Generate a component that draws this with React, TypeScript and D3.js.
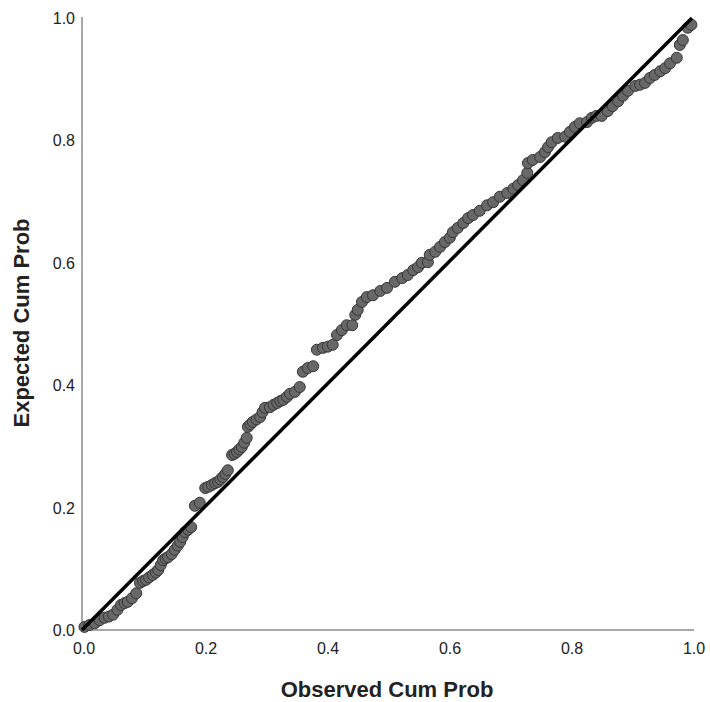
import React, { useEffect, useRef } from 'react';
import * as d3 from 'd3';

// observed cum prob (x) and expected cum prob (y)
const observed = [
  0.004, 0.012, 0.021, 0.029, 0.037, 0.044, 0.051, 0.058, 0.064, 0.070,
  0.075, 0.082, 0.089, 0.095, 0.100, 0.105, 0.110, 0.116, 0.121, 0.125,
  0.129, 0.133, 0.137, 0.141, 0.147, 0.152, 0.157, 0.161, 0.165, 0.169,
  0.174, 0.179, 0.185, 0.193, 0.202, 0.207, 0.213, 0.218, 0.223, 0.227,
  0.231, 0.235, 0.239, 0.246, 0.250, 0.254, 0.258, 0.262, 0.266, 0.270,
  0.272, 0.276, 0.280, 0.286, 0.292, 0.296, 0.300, 0.308, 0.314, 0.320,
  0.325, 0.330, 0.336, 0.341, 0.349, 0.357, 0.362, 0.370, 0.379, 0.385,
  0.395, 0.403, 0.411, 0.418, 0.426, 0.434, 0.443, 0.448, 0.452, 0.459,
  0.467, 0.477, 0.489, 0.500, 0.513, 0.525, 0.534, 0.543, 0.551, 0.557,
  0.567, 0.570, 0.579, 0.587, 0.595, 0.603, 0.608, 0.616, 0.625, 0.633,
  0.641, 0.652, 0.664, 0.674, 0.685, 0.697, 0.707, 0.715, 0.723, 0.730,
  0.731, 0.739, 0.751, 0.759, 0.764, 0.770, 0.780, 0.792, 0.800, 0.808,
  0.816, 0.828, 0.836, 0.843, 0.852, 0.862, 0.870, 0.879, 0.887, 0.895,
  0.907, 0.915, 0.923, 0.931, 0.939, 0.948, 0.956, 0.964, 0.975, 0.980,
  0.985, 0.993, 0.999,
];
const expected = [
  0.005, 0.008, 0.011, 0.016, 0.020, 0.022, 0.025, 0.033, 0.041, 0.044,
  0.046, 0.052, 0.060, 0.077, 0.080, 0.082, 0.086, 0.090, 0.094, 0.098,
  0.106, 0.114, 0.117, 0.119, 0.124, 0.131, 0.138, 0.144, 0.152, 0.160,
  0.164, 0.168, 0.203, 0.208, 0.232, 0.234, 0.237, 0.240, 0.242, 0.246,
  0.250, 0.255, 0.261, 0.286, 0.288, 0.291, 0.295, 0.299, 0.306, 0.314,
  0.332, 0.336, 0.340, 0.344, 0.348, 0.356, 0.363, 0.364, 0.368, 0.371,
  0.374, 0.376, 0.381, 0.386, 0.389, 0.397, 0.422, 0.428, 0.431, 0.458,
  0.461, 0.463, 0.466, 0.482, 0.490, 0.498, 0.498, 0.515, 0.523, 0.536,
  0.544, 0.547, 0.554, 0.559, 0.569, 0.575, 0.580, 0.588, 0.593, 0.600,
  0.601, 0.613, 0.618, 0.626, 0.634, 0.641, 0.650, 0.657, 0.665, 0.673,
  0.678, 0.685, 0.694, 0.699, 0.708, 0.714, 0.721, 0.727, 0.735, 0.747,
  0.763, 0.768, 0.773, 0.781, 0.789, 0.797, 0.804, 0.806, 0.814, 0.822,
  0.828, 0.830, 0.837, 0.840, 0.840, 0.848, 0.856, 0.864, 0.873, 0.881,
  0.889, 0.891, 0.894, 0.902, 0.907, 0.913, 0.918, 0.926, 0.935, 0.956,
  0.964, 0.984, 0.989,
];
const ticks = [0, 0.2, 0.4, 0.6, 0.8, 1.0];
const tickLabels = ['0.0', '0.2', '0.4', '0.6', '0.8', '1.0'];

export default function App() {
  const ref = useRef<SVGSVGElement>(null);

  useEffect(() => {
    const svg = d3.select(ref.current);
    svg.selectAll('*').remove();

    const x = d3.scaleLinear().domain([0, 1]).range([82, 692]);
    const y = d3.scaleLinear().domain([0, 1]).range([630, 18]);
    const font = '"Liberation Sans", Arial, sans-serif';

    // axes lines
    svg.append('line')
      .attr('x1', x(0)).attr('x2', 694)
      .attr('y1', y(0)).attr('y2', y(0))
      .attr('stroke', '#8c8c8c').attr('stroke-width', 1.5);
    svg.append('line')
      .attr('x1', x(0)).attr('x2', x(0))
      .attr('y1', y(0) + 1).attr('y2', 17)
      .attr('stroke', '#8c8c8c').attr('stroke-width', 1.5);

    // tick labels
    svg.append('g').selectAll('text')
      .data(ticks)
      .join('text')
      .attr('x', d => x(d) + 2)
      .attr('y', 654)
      .attr('text-anchor', 'middle')
      .attr('font-family', font)
      .attr('font-size', 16)
      .attr('fill', '#222')
      .text((d, i) => tickLabels[i]);

    svg.append('g').selectAll('text')
      .data(ticks)
      .join('text')
      .attr('x', 75)
      .attr('y', d => y(d) + 6)
      .attr('text-anchor', 'end')
      .attr('font-family', font)
      .attr('font-size', 16)
      .attr('fill', '#222')
      .text((d, i) => tickLabels[i]);

    // points
    const pts = observed.map((o, i) => ({ o, e: expected[i] }));
    svg.append('g').selectAll('circle')
      .data(pts)
      .join('circle')
      .attr('cx', d => x(d.o))
      .attr('cy', d => y(d.e))
      .attr('r', 5.5)
      .attr('fill', '#686868')
      .attr('stroke', '#363636')
      .attr('stroke-width', 1);

    // reference line
    const line = d3.line<number>().x(d => x(d)).y(d => y(d));
    svg.append('path')
      .datum([0, 1])
      .attr('d', line)
      .attr('fill', 'none')
      .attr('stroke', '#000')
      .attr('stroke-width', 3.5);

    // titles
    svg.append('text')
      .attr('x', 387).attr('y', 697)
      .attr('text-anchor', 'middle')
      .attr('font-family', font)
      .attr('font-weight', 'bold')
      .attr('font-size', 22)
      .attr('fill', '#222')
      .text('Observed Cum Prob');

    svg.append('text')
      .attr('transform', 'translate(29,323) rotate(-90)')
      .attr('text-anchor', 'middle')
      .attr('font-family', font)
      .attr('font-weight', 'bold')
      .attr('font-size', 22)
      .attr('fill', '#222')
      .text('Expected Cum Prob');
  }, []);

  return (
    <svg
      ref={ref}
      width={710}
      height={702}
      style={{ position: 'absolute', left: 0, top: 0, background: '#fff' }}
    />
  );
}
